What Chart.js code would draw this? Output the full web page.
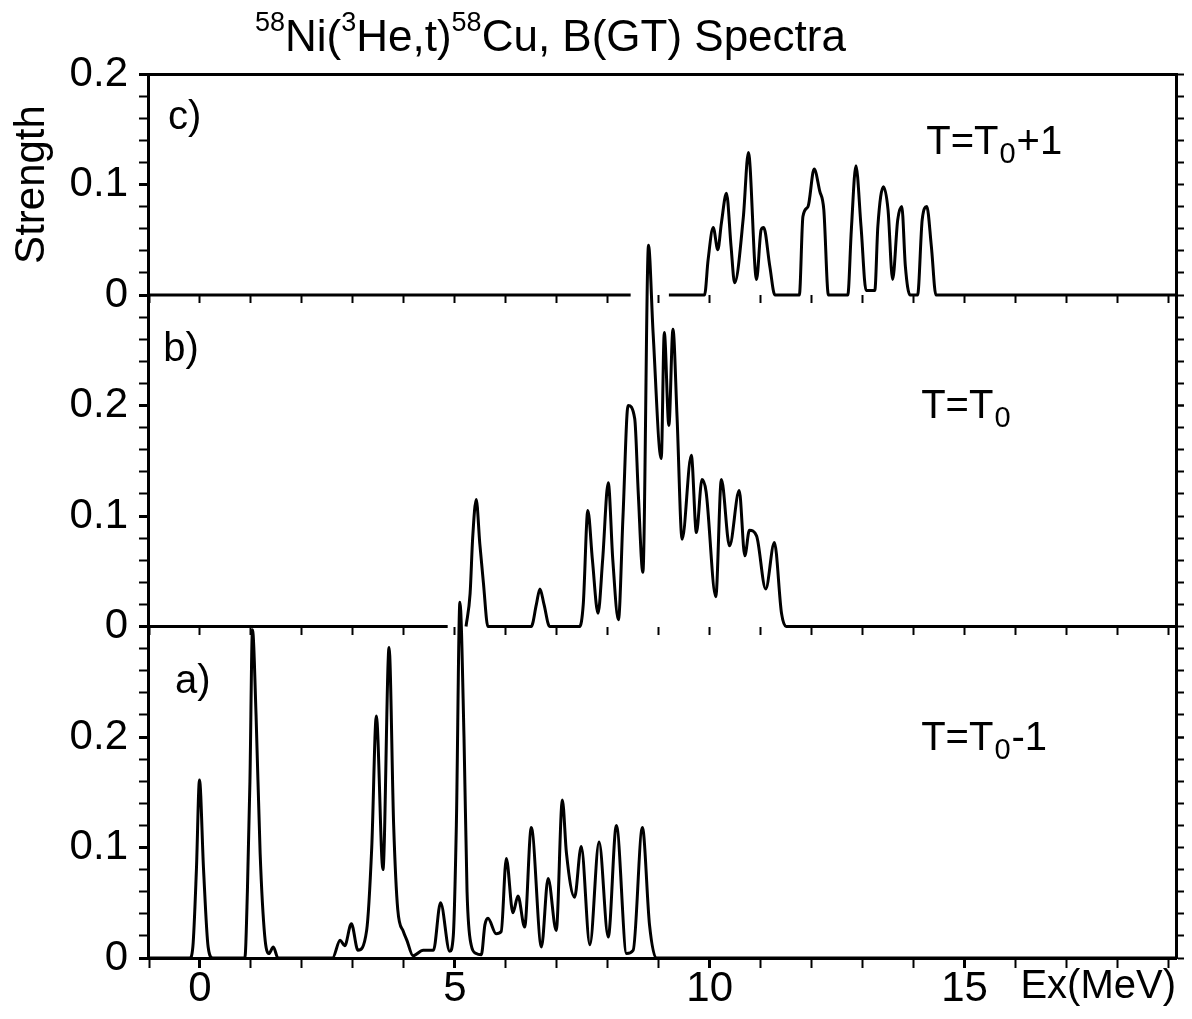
<!DOCTYPE html>
<html>
<head>
<meta charset="utf-8">
<title>58Ni(3He,t)58Cu B(GT) spectra</title>
<script src="https://cdn.jsdelivr.net/npm/chart.js@4.4.1/dist/chart.umd.min.js"></script>
<style>
  html, body { margin: 0; padding: 0; background: #fff; }
  #wrap { position: relative; width: 1192px; height: 1019px; }
</style>
</head>
<body>
<div id="wrap"><canvas id="chart"></canvas></div>
<script>
const FONT = "'Liberation Sans', Arial, Helvetica, sans-serif";

// panel c)  T = T0+1   (Ex in MeV, strength; null = break in the line)
const cEx = [-1.02, 8.45, 8.6, 9.2, 9.9, 9.97, 10.07, 10.16, 10.23, 10.33, 10.42, 10.49, 10.66, 10.76, 10.92,
  11.01, 11.06, 11.18, 11.28, 11.76, 11.83, 11.93, 12.05, 12.16, 12.24, 12.33, 12.71, 12.78, 12.87, 12.97,
  13.07, 13.24, 13.30, 13.41, 13.50, 13.59, 13.69, 13.77, 13.84, 13.93, 14.08, 14.17, 14.26, 14.35, 14.44, 19.15];
const cStrength = [0, 0, null, 0, 0, 0.032, 0.061, 0.041, 0.065, 0.092, 0.044, 0.011, 0.07, 0.129, 0.014,
  0.059, 0.061, 0.026, 0, 0, 0.071, 0.080, 0.114, 0.094, 0.077, 0, 0, 0.059, 0.117, 0.062,
  0.004, 0.004, 0.062, 0.098, 0.077, 0.014, 0.068, 0.080, 0.026, 0, 0, 0.068, 0.080, 0.044, 0, 0];

// panel b)  T = T0
const bEx = [-1.02, 4.86, 5.0, 5.22, 5.30, 5.35, 5.42, 5.49, 5.56, 5.65, 6.50, 6.60, 6.67, 6.75, 6.86,
  7.45, 7.52, 7.61, 7.70, 7.81, 7.90, 8.01, 8.10, 8.21, 8.30, 8.40, 8.53, 8.60, 8.69, 8.80,
  8.89, 9.05, 9.11, 9.20, 9.28, 9.36, 9.46, 9.64, 9.74, 9.85, 9.93, 10.12, 10.23, 10.39, 10.58,
  10.69, 10.78, 10.92, 11.10, 11.27, 11.41, 11.50, 19.15];
const bStrength = [0, 0, null, 0, 0.03, 0.08, 0.115, 0.075, 0.04, 0, 0, 0.02, 0.034, 0.02, 0,
  0, 0.02, 0.105, 0.06, 0.012, 0.06, 0.130, 0.06, 0.006, 0.10, 0.200, 0.188, 0.12, 0.049, 0.345,
  0.266, 0.152, 0.266, 0.182, 0.269, 0.19, 0.079, 0.155, 0.085, 0.133, 0.122, 0.027, 0.133, 0.073, 0.123,
  0.064, 0.087, 0.082, 0.034, 0.076, 0.012, 0, 0];

// panel a)  T = T0-1
const aEx = [-1.02, -0.20, -0.14, -0.07, -0.01, 0.07, 0.16, 0.25, 0.88, 0.93, 0.98, 1.03, 1.10, 1.18, 1.27,
  1.35, 1.44, 1.53, 2.60, 2.75, 2.84, 2.97, 3.10, 3.27, 3.37, 3.46, 3.59, 3.71, 3.80, 3.88,
  3.99, 4.06, 4.18, 4.38, 4.58, 4.72, 4.90, 4.97, 5.03, 5.10, 5.18, 5.24, 5.32, 5.42, 5.52,
  5.59, 5.65, 5.81, 5.91, 6.01, 6.14, 6.24, 6.37, 6.50, 6.70, 6.83, 6.99, 7.11, 7.19, 7.35,
  7.48, 7.65, 7.83, 8.01, 8.17, 8.37, 8.50, 8.68, 8.82, 8.95, 19.15];
const aStrength = [0, 0, 0.01, 0.08, 0.161, 0.08, 0.01, 0, 0, 0.06, 0.16, 0.297, 0.22, 0.095, 0.02,
  0.004, 0.01, 0, 0, 0.016, 0.011, 0.031, 0.007, 0.025, 0.10, 0.219, 0.08, 0.281, 0.12, 0.044,
  0.024, 0.016, 0.002, 0.007, 0.007, 0.05, 0.006, 0.02, 0.12, 0.322, 0.2, 0.06, 0.012, 0.004, 0.003,
  0.03, 0.036, 0.022, 0.024, 0.090, 0.041, 0.056, 0.028, 0.118, 0.010, 0.072, 0.025, 0.143, 0.095, 0.055,
  0.101, 0.012, 0.105, 0.019, 0.12, 0.004, 0.007, 0.118, 0.03, 0, 0];

const exLabels = [0, 5, 10, 15];
const strengthLabels = [0, 0.1, 0.2];
const panelNames = ['c)', 'b)', 'a)'];
const isospinText = [['T=T', '0', '+1'], ['T=T', '0', ''], ['T=T', '0', '-1']];
const titleParts = [['58', true], ['Ni(', false], ['3', true], ['He,t)', false], ['58', true], ['Cu, B(GT) Spectra', false]];

const EX_MIN = -1.02, EX_MAX = 19.15;

function toPoints(xs, ys) {
  return xs.map((x, i) => ({ x: x, y: ys[i] }));
}

function pickLabel(list, v) {
  const hit = list.find(t => Math.abs(t - v) < 1e-6);
  return hit === undefined ? '' : String(hit);
}

function leftAxis(max, weight, withTitle) {
  return {
    type: 'linear', position: 'left', stack: 'left', stackWeight: weight,
    min: 0, max: max,
    border: { color: '#000', width: 3 },
    grid: {
      drawOnChartArea: false, tickLength: 9, tickColor: '#000',
      tickWidth: c => pickLabel(strengthLabels, c.tick.value) ? 3 : 2
    },
    ticks: {
      stepSize: 0.02, autoSkip: false, padding: 11, color: '#000',
      font: { family: FONT, size: 42, lineHeight: 1 },
      callback: v => pickLabel(strengthLabels, v)
    },
    title: {
      display: withTitle, text: 'Strength', color: '#000',
      font: { family: FONT, size: 42, lineHeight: 1.2 }, padding: { top: 7, bottom: 0 }
    },
    afterFit: s => { s.width = 148; }
  };
}

function rightAxis(max, weight) {
  return {
    type: 'linear', position: 'right', stack: 'right', stackWeight: weight,
    min: 0, max: max,
    border: { color: '#000', width: 3 },
    grid: { drawOnChartArea: false, tickLength: 8, tickColor: '#000', tickWidth: 2 },
    ticks: { stepSize: 0.02, display: false },
    afterFit: s => { s.width = 16; }
  };
}

function separatorAxis(yId) {
  return {
    type: 'linear', axis: 'x', position: { [yId]: 0 },
    min: EX_MIN, max: EX_MAX,
    border: { display: false },
    grid: { drawOnChartArea: false, tickLength: 8, tickColor: '#000', tickWidth: 2 },
    ticks: { stepSize: 1, display: false, includeBounds: false }
  };
}

const textPlugin = {
  id: 'panelText',
  afterDraw(chart) {
    const { ctx, scales } = chart;
    ctx.save();
    ctx.fillStyle = '#000';

    // title with superscript mass numbers
    ctx.textBaseline = 'alphabetic';
    let tx = 255;
    titleParts.forEach(([txt, sup]) => {
      ctx.font = (sup ? 27 : 44) + 'px ' + FONT;
      ctx.fillText(txt, tx, sup ? 31 : 51);
      tx += ctx.measureText(txt).width;
    });

    // panel letters and isospin labels
    ctx.textBaseline = 'middle';
    const letterPos = [['yc', -0.63, 0.160], ['yb', -0.72, 0.250], ['ya', -0.49, 0.250]];
    letterPos.forEach(([id, ex, s], i) => {
      ctx.font = '40px ' + FONT;
      ctx.fillText(panelNames[i], scales.x.getPixelForValue(ex), scales[id].getPixelForValue(s));
    });
    const isoPos = [['yc', 14.25, 0.138], ['yb', 14.15, 0.199], ['ya', 14.15, 0.198]];
    isoPos.forEach(([id, ex, s], i) => {
      let x = scales.x.getPixelForValue(ex);
      const y = scales[id].getPixelForValue(s);
      const [main, sub, tail] = isospinText[i];
      ctx.font = '40px ' + FONT;
      ctx.fillText(main, x, y);
      x += ctx.measureText(main).width + 1;
      ctx.font = '29px ' + FONT;
      ctx.fillText(sub, x, y + 12);
      x += ctx.measureText(sub).width + 1;
      ctx.font = '40px ' + FONT;
      ctx.fillText(tail, x, y);
    });
    ctx.restore();
  }
};

const lineStyle = {
  borderColor: '#000', borderWidth: 3, pointRadius: 0, fill: false,
  cubicInterpolationMode: 'monotone', spanGaps: false, clip: false
};

new Chart(document.getElementById('chart'), {
  type: 'line',
  data: {
    datasets: [
      Object.assign({ label: 'T=T0+1', data: toPoints(cEx, cStrength), yAxisID: 'yc' }, lineStyle),
      Object.assign({ label: 'T=T0', data: toPoints(bEx, bStrength), yAxisID: 'yb' }, lineStyle),
      Object.assign({ label: 'T=T0-1', data: toPoints(aEx, aStrength), yAxisID: 'ya' }, lineStyle)
    ]
  },
  options: {
    responsive: true,
    maintainAspectRatio: false,
    animation: false,
    layout: { padding: { top: 74, left: 0, right: 0, bottom: 0 } },
    plugins: { legend: { display: false }, tooltip: { enabled: false }, title: { display: false } },
    scales: {
      x: {
        type: 'linear', position: 'bottom', min: EX_MIN, max: EX_MAX,
        border: { color: '#000', width: 3 },
        grid: {
          drawOnChartArea: false, tickLength: 10, tickColor: '#000',
          tickWidth: c => pickLabel(exLabels, c.tick.value) ? 3 : 2
        },
        ticks: {
          stepSize: 1, autoSkip: false, maxRotation: 0, includeBounds: false, padding: 0, color: '#000',
          font: { family: FONT, size: 42, lineHeight: 1 },
          callback: v => pickLabel(exLabels, v)
        },
        title: {
          display: true, text: 'Ex(MeV)', align: 'end', color: '#000',
          font: { family: FONT, size: 40, lineHeight: 1 }, padding: { top: 0, bottom: 12 }
        },
        afterFit: s => { s.height = 61; }
      },
      xt: {
        type: 'linear', axis: 'x', position: 'top', min: EX_MIN, max: EX_MAX,
        border: { color: '#000', width: 3 },
        grid: { drawOnChartArea: false, drawTicks: false },
        ticks: { display: false },
        afterFit: s => { s.height = 0; }
      },
      // stacked panels: the first one listed ends up at the bottom
      ya: leftAxis(0.3, 3, false),
      yb: leftAxis(0.3, 3, false),
      yc: leftAxis(0.2, 2, true),
      ra: rightAxis(0.3, 3),
      rb: rightAxis(0.3, 3),
      rc: rightAxis(0.2, 2),
      xs1: separatorAxis('yc'),
      xs2: separatorAxis('yb')
    }
  },
  plugins: [textPlugin]
});
</script>
</body>
</html>
